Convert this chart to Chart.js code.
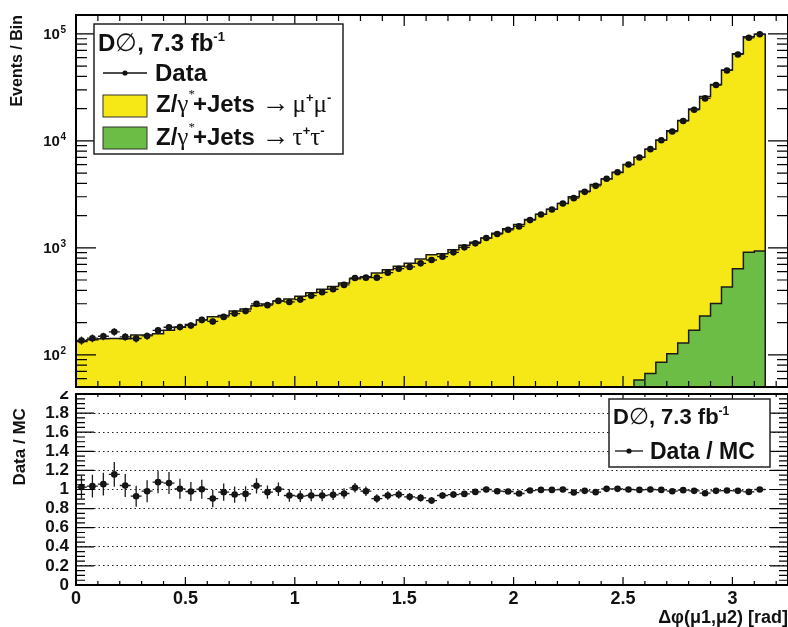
<!DOCTYPE html>
<html>
<head>
<meta charset="utf-8">
<script src="https://cdn.jsdelivr.net/npm/chart.js@4.4.0/dist/chart.umd.min.js"></script>
<style>
body{margin:0;background:#fff;}
#wrap{position:relative;width:788px;height:627px;}
#wrap canvas{position:absolute;left:0;top:0;}
</style>
</head>
<body>
<div id="wrap">
  <canvas id="ratioChart" width="788" height="627"></canvas>
  <canvas id="mainChart" width="788" height="627"></canvas>
</div>
<script>
// binning of the delta phi histogram
var binWidth = 0.05;
var xMax = 3.254;
var yMin = 50, yMax = 150000;

// Data (events per bin)
var dataCounts = [136,143,149,164,147,142,150,169,181,182,188,212,205,226,243,256,299,291,319,312,
  328,357,384,410,450,523,526,526,586,638,662,716,769,826,907,1010,1101,1234,1344,1474,
  1585,1815,2051,2284,2598,2912,3334,3793,4426,5088,6000,6993,8356,10115,12225,15346,19514,24925,33210,45470,
  64150,91800,99100];
var dataErrs = [12,12,12,13,12,12,12,13,13,13,14,15,14,15,16,16,17,17,18,18,
  18,19,20,20,21,23,23,23,24,25,26,27,28,29,30,32,33,35,37,38,
  40,43,45,48,51,54,58,62,67,71,77,84,91,101,111,124,140,158,182,213,
  253,303,315];
// Z/gamma*+jets -> mu mu (total MC, drawn as the yellow stack top)
var mcTotal = [133,138,141,142,141,153,153,157,170,181,192,211,227,233,257,268,288,299,318,333,
  353,381,410,434,470,514,536,581,625,674,717,785,860,882,958,1059,1129,1234,1369,1506,
  1654,1835,2059,2293,2598,3008,3381,3902,4395,5053,6000,7021,8356,10156,12449,15454,19791,25936,33682,45976,
  65061,94154,99100];
// Z/gamma*+jets -> tau tau, visible from bin 51 on
var tauFirstBin = 51;
var mcTau = [58,67,85,102,129,170,231,301,431,638,907,933];
// Data / MC
var ratio = [1.025,1.035,1.056,1.158,1.042,0.93,0.982,1.077,1.067,1.007,0.979,1.003,0.905,0.972,0.947,0.954,1.039,0.972,1.003,0.937,
  0.93,0.937,0.937,0.944,0.958,1.018,0.982,0.905,0.937,0.947,0.923,0.912,0.884,0.937,0.947,0.954,0.975,1.0,0.982,0.979,
  0.958,0.989,0.996,0.996,1.0,0.968,0.986,0.972,1.007,1.007,1.0,0.996,1.0,0.996,0.982,0.993,0.986,0.961,0.986,0.989,
  0.986,0.975,1.0];
var ratioErrs = [0.12,0.12,0.12,0.13,0.12,0.11,0.115,0.115,0.115,0.105,0.1,0.1,0.09,0.09,0.085,0.08,0.08,0.07,0.07,0.065,
  0.06,0.06,0.06,0.055,0.055,0.05,0.05,0.045,0.045,0.045,0.04,0.04,0.035,0.035,0.035,0.03,0.03,0.03,0.028,0.026,
  0.025,0.023,0.021,0.02,0.019,0.018,0.017,0.016,0.015,0.014,0.013,0.012,0.011,0.01,0.009,0.008,0.007,0.006,0.006,0.005,
  0.004,0.004,0.004];

var BOLD = '"Liberation Sans", Arial, sans-serif';
var GREEK = '"Liberation Serif", "DejaVu Serif", serif';

function stepPoints(vals, first){
  var pts = [{x: first*binWidth, y: yMin}];
  for(var i=0;i<vals.length;i++){
    pts.push({x: (first+i)*binWidth, y: vals[i]});
  }
  var end = (first+vals.length)*binWidth;
  pts.push({x: end, y: vals[vals.length-1]});
  pts.push({x: end, y: yMin});
  return pts;
}
function centerPoints(vals){
  var pts = [];
  for(var i=0;i<vals.length;i++){
    pts.push({x: (i+0.5)*binWidth, y: vals[i]});
  }
  return pts;
}
function richText(ctx, x, y, parts){
  for(var i=0;i<parts.length;i++){
    ctx.font = parts[i][1];
    ctx.fillText(parts[i][0], x, y+(parts[i][2]||0));
    x += ctx.measureText(parts[i][0]).width + (parts[i][3]||0);
  }
  return x;
}

// error bars for the datasets that carry an "errs" list
var errorBars = {
  id: 'errorBars',
  afterDatasetsDraw: function(chart){
    var ctx = chart.ctx, xs = chart.scales.x, ys = chart.scales.y;
    ctx.save();
    ctx.beginPath();
    ctx.rect(chart.chartArea.left, chart.chartArea.top, chart.chartArea.width, chart.chartArea.height);
    ctx.clip();
    ctx.strokeStyle = '#1a1a1a';
    ctx.lineWidth = 1.3;
    chart.data.datasets.forEach(function(ds){
      if(!ds.errs) return;
      ctx.beginPath();
      ds.data.forEach(function(p, i){
        var px = xs.getPixelForValue(p.x), py = ys.getPixelForValue(p.y);
        ctx.moveTo(xs.getPixelForValue(p.x-binWidth/2), py);
        ctx.lineTo(xs.getPixelForValue(p.x+binWidth/2), py);
        ctx.moveTo(px, ys.getPixelForValue(p.y+ds.errs[i]));
        ctx.lineTo(px, ys.getPixelForValue(Math.max(p.y-ds.errs[i], ys.min)));
      });
      ctx.stroke();
    });
    ctx.restore();
  }
};

// ROOT style frame with inward ticks on all four sides
var frame = {
  id: 'frame',
  beforeDraw: function(chart, args, opts){
    if(opts.white){
      var c = chart.ctx;
      c.save(); c.fillStyle = '#fff'; c.fillRect(0, 0, chart.width, opts.white); c.restore();
    }
  },
  afterDraw: function(chart, args, opts){
    var ctx = chart.ctx, a = chart.chartArea, xs = chart.scales.x, ys = chart.scales.y;
    ctx.save();
    ctx.strokeStyle = '#000';
    ctx.lineWidth = 1.2;
    ctx.beginPath();
    for(var k=0;k<=Math.floor(xMax*10);k++){
      var v = k/10, px = xs.getPixelForValue(v), major = (k%5===0);
      var lt = major ? opts.topMajor : opts.topMinor;
      var lb = major ? opts.botMajor : opts.botMinor;
      ctx.moveTo(px, a.top); ctx.lineTo(px, a.top+lt);
      ctx.moveTo(px, a.bottom); ctx.lineTo(px, a.bottom-lb);
    }
    opts.yTicks.forEach(function(t){
      var py = ys.getPixelForValue(t.v);
      var l = t.major ? opts.yMajor : opts.yMinor;
      ctx.moveTo(a.left, py); ctx.lineTo(a.left+l, py);
      ctx.moveTo(a.right, py); ctx.lineTo(a.right-l, py);
    });
    ctx.stroke();
    ctx.lineWidth = 2;
    ctx.strokeRect(a.left, a.top, a.right-a.left, a.bottom-a.top);
    ctx.restore();
  }
};

function logTicks(){
  var list = [];
  for(var e=1;e<=5;e++){
    for(var k=1;k<=9;k++){
      var v = k*Math.pow(10,e);
      if(v>=yMin && v<=yMax) list.push({v: v, major: k===1});
    }
  }
  return list;
}
function linTicks(){
  var list = [];
  for(var k=0;k<=40;k++) list.push({v: k*0.05, major: k%4===0});
  return list;
}

// decade labels and the legend of the upper panel
var mainDecor = {
  id: 'mainDecor',
  afterDraw: function(chart){
    var ctx = chart.ctx, ys = chart.scales.y;
    ctx.save();
    ctx.fillStyle = '#111';
    ctx.textBaseline = 'alphabetic';
    [2,3,4,5].forEach(function(e){
      var py = ys.getPixelForValue(Math.pow(10,e));
      ctx.font = 'bold 10px ' + BOLD;
      ctx.textAlign = 'right';
      var sw = ctx.measureText(String(e)).width;
      ctx.fillText(String(e), 66, py-1);
      ctx.font = 'bold 15px ' + BOLD;
      ctx.fillText('10', 66-sw-0.5, py+5);
    });
    ctx.textAlign = 'left';
    // legend box
    ctx.fillStyle = '#fff';
    ctx.fillRect(94, 24, 249, 130);
    ctx.strokeStyle = '#222';
    ctx.lineWidth = 1.5;
    ctx.strokeRect(94, 24, 249, 130);
    ctx.fillStyle = '#111';
    var B = 'bold 24px ' + BOLD, G = '25px ' + GREEK, A = '28px ' + GREEK, S = 'bold 13px ' + BOLD, SG = '13px ' + GREEK;
    richText(ctx, 98, 51, [['D',B],['\u2205',G],[', 7.3 fb',B],['-1',S,-10]]);
    ctx.strokeStyle = '#111';
    ctx.lineWidth = 1.3;
    ctx.beginPath(); ctx.moveTo(103, 73); ctx.lineTo(147, 73); ctx.stroke();
    ctx.beginPath(); ctx.arc(125, 73, 2.6, 0, Math.PI*2); ctx.fill();
    richText(ctx, 155, 81, [['Data',B]]);
    ctx.lineWidth = 1;
    ctx.strokeStyle = '#333';
    ctx.fillStyle = '#f5e816';
    ctx.fillRect(103, 95, 44, 22); ctx.strokeRect(103, 95, 44, 22);
    ctx.fillStyle = '#6cbd45';
    ctx.fillRect(103, 127, 44, 22); ctx.strokeRect(103, 127, 44, 22);
    ctx.fillStyle = '#111';
    var tail = [['+Jets ',B],['\u2192',A,0,3]];
    richText(ctx, 156, 112, [['Z/',B],['\u03b3',G],['*',SG,-14,-2]].concat(tail,
      [['\u03bc',G],['+',S,-10],['\u03bc',G],['-',S,-10]]));
    richText(ctx, 156, 145, [['Z/',B],['\u03b3',G],['*',SG,-14,-2]].concat(tail,
      [['\u03c4',G],['+',S,-10],['\u03c4',G],['-',S,-10]]));
    ctx.restore();
  }
};

var ratioDecor = {
  id: 'ratioDecor',
  afterDraw: function(chart){
    var ctx = chart.ctx;
    ctx.save();
    ctx.fillStyle = '#fff';
    ctx.fillRect(609, 399, 161, 68);
    ctx.strokeStyle = '#222';
    ctx.lineWidth = 1.5;
    ctx.strokeRect(609, 399, 161, 68);
    ctx.fillStyle = '#111';
    ctx.textAlign = 'left';
    var B = 'bold 22px ' + BOLD, G = '23px ' + GREEK, S = 'bold 12px ' + BOLD;
    richText(ctx, 613, 424, [['D',B],['\u2205',G],[', 7.3 fb',B],['-1',S,-9]]);
    ctx.strokeStyle = '#111';
    ctx.lineWidth = 1.3;
    ctx.beginPath(); ctx.moveTo(615, 451); ctx.lineTo(643, 451); ctx.stroke();
    ctx.beginPath(); ctx.arc(629, 451, 2.6, 0, Math.PI*2); ctx.fill();
    richText(ctx, 650, 459, [['Data / MC','bold 23px ' + BOLD]]);
    ctx.restore();
  }
};

var xAxisCommon = {
  type: 'linear', min: 0, max: xMax
};

new Chart(document.getElementById('mainChart'), {
  type: 'line',
  data: {
    datasets: [
      {label: 'Data', data: centerPoints(dataCounts), errs: dataErrs, showLine: false,
        pointRadius: 3.3, pointBackgroundColor: '#111', pointBorderWidth: 0, order: 1},
      {label: 'tautau', data: stepPoints(mcTau, tauFirstBin), stepped: 'before', fill: 'start',
        backgroundColor: '#6cbd45', borderColor: '#1a1a1a', borderWidth: 1.5, pointRadius: 0, order: 2},
      {label: 'mumu', data: stepPoints(mcTotal, 0), stepped: 'before', fill: 'start',
        backgroundColor: '#f5e816', borderColor: '#1a1a1a', borderWidth: 1.5, pointRadius: 0, order: 3}
    ]
  },
  options: {
    responsive: false,
    animation: false,
    events: [],
    layout: {autoPadding: false, padding: {left: 0, right: 0, top: 15, bottom: 240}},
    scales: {
      x: Object.assign({display: false}, xAxisCommon),
      y: {
        type: 'logarithmic', min: yMin, max: yMax,
        grid: {display: false}, border: {display: false},
        ticks: {display: false},
        title: {display: true, text: 'Events / Bin', align: 'end', color: '#111',
          font: {family: BOLD, size: 16, weight: 'bold'}, padding: {top: 8}},
        afterFit: function(s){ s.width = 76; }
      }
    },
    plugins: {
      legend: {display: false},
      tooltip: {enabled: false},
      frame: {white: 391, yTicks: logTicks(), yMajor: 20, yMinor: 11,
        topMajor: 11, topMinor: 6, botMajor: 11, botMinor: 6}
    }
  },
  plugins: [frame, errorBars, mainDecor]
});

new Chart(document.getElementById('ratioChart'), {
  type: 'line',
  data: {
    datasets: [
      {label: 'Data / MC', data: centerPoints(ratio), errs: ratioErrs, showLine: false,
        pointRadius: 3.3, pointBackgroundColor: '#111', pointBorderWidth: 0}
    ]
  },
  options: {
    responsive: false,
    animation: false,
    events: [],
    layout: {autoPadding: false, padding: {left: 0, right: 0, top: 394, bottom: 0}},
    scales: {
      x: Object.assign({
        grid: {display: false}, border: {display: false},
        ticks: {stepSize: 0.5, includeBounds: false, maxRotation: 0, padding: -5, color: '#111',
          font: {family: BOLD, size: 18, weight: 'bold'},
          callback: function(v){ return String(Math.round(v*10)/10); }},
        title: {display: true, text: '\u0394\u03c6(\u03bc1,\u03bc2) [rad]', align: 'end', color: '#111',
          font: {family: BOLD, size: 18, weight: 'bold'}, padding: {top: 0, bottom: -2}},
        afterFit: function(s){ s.height = 42; }
      }, xAxisCommon),
      y: {
        type: 'linear', min: 0, max: 2,
        grid: {drawTicks: false, color: '#222', lineWidth: 1},
        border: {display: false, dash: [1.5, 3]},
        ticks: {stepSize: 0.2, autoSkip: false, padding: 7, color: '#111',
          font: {family: BOLD, size: 17, weight: 'bold'},
          callback: function(v){ return String(Math.round(v*10)/10); }},
        title: {display: true, text: 'Data / MC   ', align: 'end', color: '#111',
          font: {family: BOLD, size: 17, weight: 'bold'}, padding: {top: 10}},
        afterFit: function(s){ s.width = 76; }
      }
    },
    plugins: {
      legend: {display: false},
      tooltip: {enabled: false},
      frame: {yTicks: linTicks(), yMajor: 18, yMinor: 9,
        topMajor: 6, topMinor: 3, botMajor: 8, botMinor: 4}
    }
  },
  plugins: [frame, errorBars, ratioDecor]
});
</script>
</body>
</html>
